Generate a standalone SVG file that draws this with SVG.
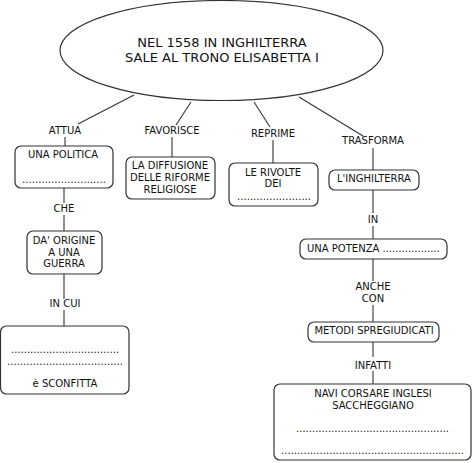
<svg xmlns="http://www.w3.org/2000/svg" width="474" height="463" viewBox="0 0 474 463">
<style>
.n{fill:#fff;stroke:#333;stroke-width:1.2}
.c line{stroke:#333;stroke-width:1.1}
text{font-family:"DejaVu Sans",Verdana,sans-serif;font-size:10px;fill:#111;text-anchor:middle}
.t{font-size:13px}
.s{text-anchor:start}
</style>
<rect width="474" height="463" fill="#fff"/>
<g class="c" id="connectors">
<line x1="134" y1="95" x2="78" y2="124"/>
<line x1="191" y1="102" x2="176" y2="125"/>
<line x1="254" y1="102" x2="270" y2="127"/>
<line x1="299" y1="97" x2="363" y2="136"/>
<line x1="65" y1="137" x2="65" y2="146"/>
<line x1="64" y1="188" x2="64" y2="203"/>
<line x1="64" y1="215" x2="64" y2="231"/>
<line x1="64" y1="274" x2="64" y2="299"/>
<line x1="64" y1="310" x2="64" y2="326"/>
<line x1="172" y1="137" x2="172" y2="157"/>
<line x1="273" y1="140" x2="273" y2="163"/>
<line x1="373" y1="148" x2="373" y2="170"/>
<line x1="373" y1="190" x2="373" y2="213"/>
<line x1="373" y1="226" x2="373" y2="239"/>
<line x1="373" y1="259" x2="373" y2="281"/>
<line x1="373" y1="305" x2="373" y2="322"/>
<line x1="373" y1="342" x2="373" y2="357"/>
<line x1="373" y1="371" x2="373" y2="384"/>
</g>
<g id="root">
<ellipse class="n" cx="221.5" cy="50.5" rx="161.5" ry="50"/>
<text class="t" x="222" y="47">NEL 1558 IN INGHILTERRA</text>
<text class="t" x="222" y="62">SALE AL TRONO ELISABETTA I</text>
</g>
<g id="labels">
<text x="65" y="134">ATTUA</text>
<text x="172" y="134">FAVORISCE</text>
<text x="273" y="137">REPRIME</text>
<text x="373" y="144">TRASFORMA</text>
<text x="64" y="212">CHE</text>
<text x="65" y="307">IN CUI</text>
<text x="373" y="223">IN</text>
<text x="373" y="290">ANCHE</text>
<text x="373" y="302">CON</text>
<text x="373" y="369">INFATTI</text>
</g>
<g id="politica">
<rect class="n" x="15" y="146" width="98" height="42" rx="6"/>
<text x="63" y="158">UNA POLITICA</text>
<text class="s" x="22" y="183" textLength="84" lengthAdjust="spacing">..........................</text>
</g>
<g id="origine">
<rect class="n" x="27" y="231" width="75" height="43" rx="6"/>
<text x="64" y="244">DA' ORIGINE</text>
<text x="64" y="256">A UNA</text>
<text x="64" y="267">GUERRA</text>
</g>
<g id="sconfitta">
<rect class="n" x="0.5" y="326" width="128.5" height="68" rx="6"/>
<text class="s" x="11" y="353" textLength="108" lengthAdjust="spacing">..................................</text>
<text class="s" x="7" y="365" textLength="116" lengthAdjust="spacing">....................................</text>
<text x="65" y="387">è SCONFITTA</text>
</g>
<g id="diffusione">
<rect class="n" x="126" y="157" width="89" height="42" rx="6"/>
<text x="170" y="169">LA DIFFUSIONE</text>
<text x="170" y="181">DELLE RIFORME</text>
<text x="170" y="193">RELIGIOSE</text>
</g>
<g id="rivolte">
<rect class="n" x="229" y="163" width="89" height="43" rx="6"/>
<text x="273" y="176">LE RIVOLTE</text>
<text x="273" y="187">DEI</text>
<text class="s" x="237" y="200" textLength="74" lengthAdjust="spacing">.......................</text>
</g>
<g id="inghilterra">
<rect class="n" x="329" y="170" width="90" height="20" rx="6"/>
<text x="374" y="182">L'INGHILTERRA</text>
</g>
<g id="potenza">
<rect class="n" x="300" y="239" width="147" height="20" rx="6"/>
<text class="s" x="307" y="252">UNA POTENZA ..................</text>
</g>
<g id="metodi">
<rect class="n" x="308" y="322" width="131" height="20" rx="6"/>
<text x="374" y="334">METODI SPREGIUDICATI</text>
</g>
<g id="navi">
<rect class="n" x="274" y="384" width="197" height="76" rx="6"/>
<text x="373" y="397">NAVI CORSARE INGLESI</text>
<text x="373" y="409">SACCHEGGIANO</text>
<text class="s" x="296" y="432" textLength="153" lengthAdjust="spacing">................................................</text>
<text class="s" x="281" y="454" textLength="183" lengthAdjust="spacing">.........................................................</text>
</g>
</svg>
